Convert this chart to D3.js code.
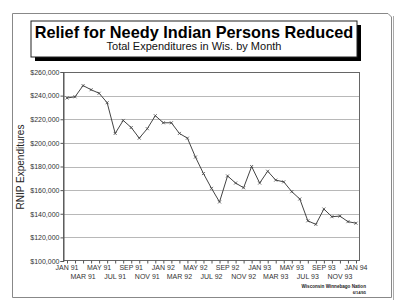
<!DOCTYPE html>
<html><head><meta charset="utf-8">
<script src="https://cdn.jsdelivr.net/npm/d3@7"></script>
<style>
html,body{margin:0;padding:0;background:#fff;}
svg{display:block;font-family:"Liberation Sans",Arial,sans-serif;}
</style></head>
<body>
<svg id="c" width="400" height="307"></svg>
<script>
const months = ["JAN 91","FEB 91","MAR 91","APR 91","MAY 91","JUN 91","JUL 91","AUG 91","SEP 91","OCT 91","NOV 91","DEC 91",
"JAN 92","FEB 92","MAR 92","APR 92","MAY 92","JUN 92","JUL 92","AUG 92","SEP 92","OCT 92","NOV 92","DEC 92",
"JAN 93","FEB 93","MAR 93","APR 93","MAY 93","JUN 93","JUL 93","AUG 93","SEP 93","OCT 93","NOV 93","DEC 93","JAN 94"];
const expenditures = [238000,239000,248500,245000,242000,234000,208000,219000,213000,204000,212000,223000,
217000,217000,208000,204000,188000,174000,161500,150000,172000,166000,162000,180000,
166000,176000,168500,167000,158700,152500,134000,131000,144000,137500,138000,133300,132000];
const yTicks = [100000,120000,140000,160000,180000,200000,220000,240000,260000];
const titleText = "Relief for Needy Indian Persons Reduced";
const subtitleText = "Total Expenditures in Wis. by Month";
const yTitle = "RNIP Expenditures";
const sourceText = ["Wisconsin Winnebago Nation","6/14/95"];

const svg = d3.select("#c");
const L=63,R=360,T=72,B=261;
const x = d3.scaleLinear().domain([-0.5, months.length-0.5]).range([L,R]);
const y = d3.scaleLinear().domain([100000,260000]).range([B,T]);

// page frame
const frame = svg.append("g").attr("fill","none").attr("stroke","#888").attr("stroke-width",1);
frame.append("path").attr("d","M12.5,297.5 L12.5,13.5 L388,13.5 L391.5,17 L391.5,297.5 Z");
frame.append("line").attr("x1",393.5).attr("x2",393.5).attr("y1",16).attr("y2",300).attr("stroke","#aaa");

// gridlines
svg.append("g").selectAll("line").data(yTicks.slice(1,-1)).join("line")
  .attr("x1",L).attr("x2",R).attr("y1",d=>Math.round(y(d))+0.5).attr("y2",d=>Math.round(y(d))+0.5)
  .attr("stroke","#b8b8b8").attr("stroke-width",1);

// plot box
svg.append("rect").attr("x",L+0.5).attr("y",T+0.5).attr("width",R-L-1).attr("height",B-T-1)
  .attr("fill","none").attr("stroke","#666").attr("stroke-width",1);

// y axis
const yAxis = d3.axisLeft(y).tickValues(yTicks).tickSize(3).tickPadding(1)
  .tickFormat(d=>"$"+d3.format(",")(d));
const ya = svg.append("g").attr("transform",`translate(${L+0.5},0)`).call(yAxis);
ya.select(".domain").attr("stroke","#555");
ya.selectAll(".tick line").attr("stroke","#555");
ya.selectAll("text").attr("font-size",7).attr("fill","#333");

// x axis
const xAxis = d3.axisBottom(x).tickValues(d3.range(months.length)).tickSize(3).tickFormat("");
const xa = svg.append("g").attr("transform",`translate(0,${B-0.5})`).call(xAxis);
xa.select(".domain").remove();
xa.selectAll(".tick line").attr("stroke","#555");
svg.append("g").selectAll("text").data(months.map((m,i)=>({m,i})).filter(d=>d.i%2===0)).join("text")
  .attr("x",d=>x(d.i)).attr("y",d=>(d.i%4===0)?269.5:278.5)
  .attr("text-anchor","middle").attr("font-size",7).attr("fill","#333").text(d=>d.m);

// y title
svg.append("text").attr("transform","translate(24,167) rotate(-90)").attr("text-anchor","middle")
  .attr("font-size",10).attr("fill","#222").text(yTitle);

// line
const line = d3.line().x((d,i)=>x(i)).y(d=>y(d));
svg.append("path").datum(expenditures).attr("d",line).attr("fill","none").attr("stroke","#444").attr("stroke-width",1);
svg.append("g").selectAll("path").data(expenditures).join("path")
  .attr("d",(d,i)=>{const cx=x(i),cy=y(d),s=1.5;return `M${cx-s},${cy-s}L${cx+s},${cy+s}M${cx-s},${cy+s}L${cx+s},${cy-s}`;})
  .attr("stroke","#444").attr("stroke-width",0.8);

// title box with shadow
svg.append("rect").attr("x",35).attr("y",25).attr("width",326).attr("height",36).attr("fill","#000");
svg.append("rect").attr("x",31).attr("y",21).attr("width",326).attr("height",36).attr("fill","#fff").attr("stroke","#222").attr("stroke-width",1);
svg.append("text").attr("x",194).attr("y",37.5).attr("text-anchor","middle").attr("font-size",16.3).attr("font-weight","bold")
  .attr("fill","#000").text(titleText);
svg.append("text").attr("x",194).attr("y",50).attr("text-anchor","middle").attr("font-size",11)
  .attr("fill","#111").text(subtitleText);

// source
svg.append("text").attr("x",366).attr("y",288).attr("text-anchor","end").attr("font-size",4.6).attr("font-weight","bold")
  .attr("fill","#222").text(sourceText[0]);
svg.append("text").attr("x",366).attr("y",293.5).attr("text-anchor","end").attr("font-size",4).attr("font-weight","bold")
  .attr("fill","#222").text(sourceText[1]);
</script>
</body></html>
